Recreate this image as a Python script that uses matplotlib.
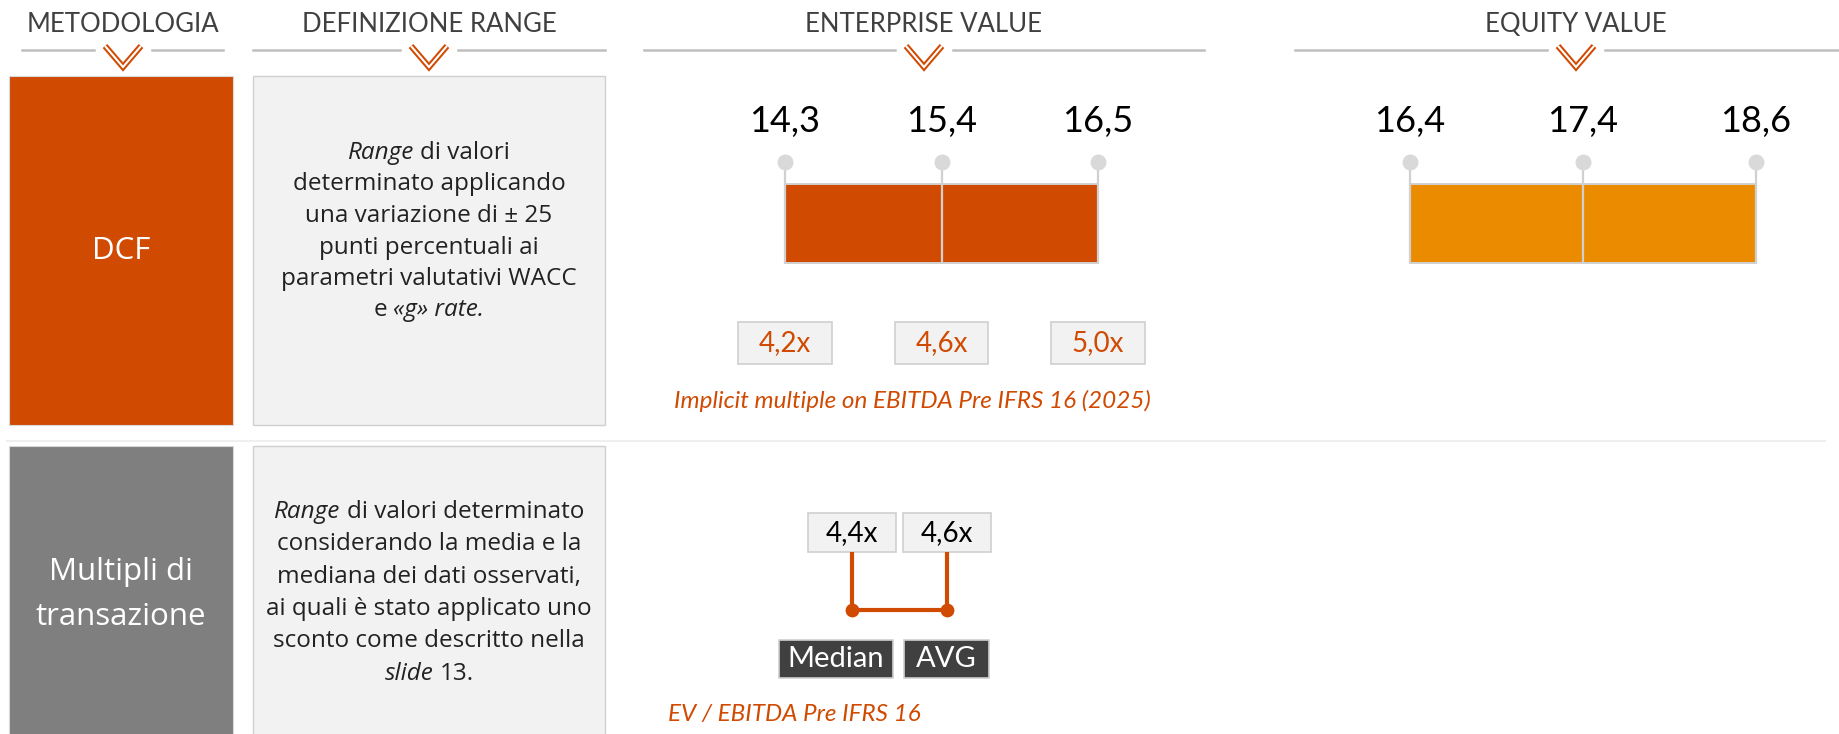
import numpy as np
import matplotlib
matplotlib.use("Agg")
import matplotlib.pyplot as plt
from matplotlib.patches import Rectangle

plt.rcParams["font.family"] = ["Lato", "DejaVu Sans"]

W, H = 1839, 734

ORANGE = "#D04A02"
TANGERINE = "#EB8C00"
DARK_GREY = "#7F7F7F"
LIGHT_FILL = "#F2F2F2"
EDGE = "#D0D0D0"
HEAD_LINE = "#BFBFBF"
TEXT_GREY = "#404040"
DESC_FONT = ["Open Sans", "DejaVu Sans"]

# chart data
HEADERS = ["METODOLOGIA", "DEFINIZIONE RANGE", "ENTERPRISE VALUE", "EQUITY VALUE"]
METHODS = [["DCF"], ["Multipli di", "transazione"]]
METHOD_COLORS = [ORANGE, DARK_GREY]

EV_RANGE = [14.3, 15.4, 16.5]
EQUITY_RANGE = [16.4, 17.4, 18.6]
DCF_MULTIPLES = [4.2, 4.6, 5.0]
DCF_CAPTION = "Implicit multiple on EBITDA Pre IFRS 16 (2025)"

TX_MULTIPLES = [4.4, 4.6]
TX_LABELS = ["Median", "AVG"]
TX_CAPTION = "EV / EBITDA Pre IFRS 16"

# (text, italic) pieces, joined by a space
DESC_DCF = [
    [("Range", True), ("di valori", False)],
    [("determinato applicando", False)],
    [("una variazione di ± 25", False)],
    [("punti percentuali ai", False)],
    [("parametri valutativi WACC", False)],
    [("e", False), ("«g» rate.", True)],
]
DESC_TX = [
    [("Range", True), ("di valori determinato", False)],
    [("considerando la media e la", False)],
    [("mediana dei dati osservati,", False)],
    [("ai quali è stato applicato uno", False)],
    [("sconto come descritto nella", False)],
    [("slide", True), ("13.", False)],
]


def fmt(v, suffix=""):
    return f"{v:.1f}".replace(".", ",") + suffix


def px_axes(fig, x0, y0, x1, y1):
    ax = fig.add_axes([x0 / W, 1 - y1 / H, (x1 - x0) / W, (y1 - y0) / H])
    ax.axis("off")
    return ax


def rich_line(ax, renderer, cx, cy, parts, **kw):
    probe = ax.text(0, 0, "a a", **kw)
    w1 = probe.get_window_extent(renderer).width
    probe.set_text("aa")
    space = w1 - probe.get_window_extent(renderer).width
    probe.remove()

    texts = []
    widths = []
    for s, italic in parts:
        t = ax.text(0, cy, s, ha="left", va="center",
                    fontstyle="italic" if italic else "normal", **kw)
        texts.append(t)
        widths.append(t.get_window_extent(renderer).width)

    total = sum(widths) + space * (len(parts) - 1)
    x = cx - total / 2
    for t, w in zip(texts, widths):
        t.set_x(x)
        x += w + space


def draw_headers(ax):
    spans = [(22, 223), (253, 605), (644, 1204), (1295, 1839)]
    centers = [123, 429, 924, 1576]
    for name, (x0, x1), c in zip(HEADERS, spans, centers):
        ax.plot([x0, c - 29], [50, 50], color=HEAD_LINE, lw=1.8)
        ax.plot([c + 29, x1], [50, 50], color=HEAD_LINE, lw=1.8)
        vx = [c - 18, c, c + 18]
        vy = [46, 67, 46]
        ax.plot(vx, vy, color=ORANGE, lw=4.4, solid_joinstyle="miter",
                solid_capstyle="butt")
        ax.plot(vx, vy, color="white", lw=1.5, solid_joinstyle="miter",
                solid_capstyle="butt")
        ax.text(c, 24, name, ha="center", va="center", fontsize=18.5,
                color=TEXT_GREY)


def draw_rows(ax, renderer):
    rows = [(76, 425), (446, 760)]
    method_text_y = [[251], [572, 617]]
    desc_start = [153, 512]
    desc_step = [31.5, 32.3]
    descs = [DESC_DCF, DESC_TX]

    for i, (y0, y1) in enumerate(rows):
        ax.add_patch(Rectangle((9, y0), 224, y1 - y0, fc=METHOD_COLORS[i],
                               ec="#D9D9D9", lw=0.8))
        ax.add_patch(Rectangle((253, y0), 352, y1 - y0, fc=LIGHT_FILL,
                               ec=EDGE, lw=1.0))
        for line, ty in zip(METHODS[i], method_text_y[i]):
            ax.text(121, ty, line, ha="center", va="center", fontsize=22.5,
                    color="white", family=DESC_FONT)
        for k, parts in enumerate(descs[i]):
            rich_line(ax, renderer, 429, desc_start[i] + k * desc_step[i],
                      parts, fontsize=17.5, color="#222222", family=DESC_FONT)

    ax.plot([7, 1825], [441, 441], color="#EFEFEF", lw=1.5)


def draw_range(fig, rect, values, color):
    ax = px_axes(fig, *rect)
    pos = np.arange(len(values))
    ax.bar(pos[:-1], np.ones(len(values) - 1), width=1, align="edge",
           color=color, edgecolor=EDGE, linewidth=1.4, clip_on=False)
    ax.vlines(pos, 0, 1.28, color=EDGE, lw=1.6, clip_on=False)
    ax.scatter(pos, np.full(len(pos), 1.28), s=110, color="#D9D9D9",
               zorder=3, clip_on=False)
    for p, v in zip(pos, values):
        ax.text(p, 1.79, fmt(v), ha="center", va="center", fontsize=26,
                color="black")
    ax.set_xlim(0, len(values) - 1)
    ax.set_ylim(0, 1)
    return ax


def draw_dcf_multiples(ax):
    for i, m in enumerate(DCF_MULTIPLES):
        ax.add_patch(Rectangle((i - 0.30, -1.28), 0.60, 0.53, fc=LIGHT_FILL,
                               ec=EDGE, lw=1.2, clip_on=False))
        ax.text(i, -1.01, fmt(m, "x"), ha="center", va="center",
                fontsize=20, color=ORANGE)


def draw_tx(fig):
    ax = px_axes(fig, 852, 552, 947, 610)
    pos = np.arange(len(TX_MULTIPLES))
    ax.vlines(pos, 0, 1, color=ORANGE, lw=3, clip_on=False)
    ax.hlines(0, pos[0], pos[-1], color=ORANGE, lw=3, clip_on=False)
    ax.scatter(pos, np.zeros(len(pos)), s=80, color=ORANGE, zorder=3,
               clip_on=False)

    for p, m in zip(pos, TX_MULTIPLES):
        ax.add_patch(Rectangle((p - 0.46, 1.0), 0.92, 0.67, fc=LIGHT_FILL,
                               ec=EDGE, lw=1.2, clip_on=False))
        ax.text(p, 1.335, fmt(m, "x"), ha="center", va="center",
                fontsize=20, color="black")

    label_span = [(-0.77, 0.43), (0.55, 1.44)]
    for (l, r), name in zip(label_span, TX_LABELS):
        ax.add_patch(Rectangle((l, -1.17), r - l, 0.65, fc="#404040",
                               ec=EDGE, lw=1.2, clip_on=False))
        ax.text((l + r) / 2, -0.845, name, ha="center", va="center",
                fontsize=21, color="white")

    ax.set_xlim(0, 1)
    ax.set_ylim(0, 1)


if __name__ == "__main__":

    fig = plt.figure(figsize=(W / 100, H / 100), dpi=100)
    renderer = fig.canvas.get_renderer()

    bg = fig.add_axes([0, 0, 1, 1])
    bg.set_xlim(0, W)
    bg.set_ylim(H, 0)
    bg.axis("off")

    draw_headers(bg)
    draw_rows(bg, renderer)

    ev_ax = draw_range(fig, (785, 184, 1098, 263), EV_RANGE, ORANGE)
    draw_range(fig, (1410, 184, 1756, 263), EQUITY_RANGE, TANGERINE)
    draw_dcf_multiples(ev_ax)

    bg.text(674, 401, DCF_CAPTION, ha="left", va="center", fontsize=17.5,
            fontstyle="italic", color=ORANGE)

    draw_tx(fig)
    bg.text(668, 715, TX_CAPTION, ha="left", va="center", fontsize=17.5,
            fontstyle="italic", color=ORANGE)

    fig.savefig("out.png", dpi=100)
    plt.close(fig)
